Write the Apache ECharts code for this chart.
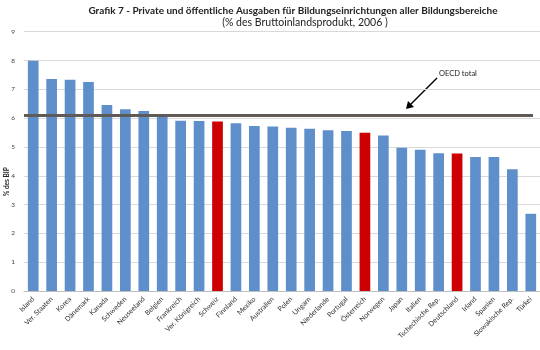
<!DOCTYPE html>
<html>
<head>
<meta charset="utf-8">
<script src="https://cdn.jsdelivr.net/npm/echarts@6/dist/echarts.min.js"></script>
<style>
  html, body { margin: 0; padding: 0; background: #fff; }
  #chart { width: 540px; height: 350px; }
</style>
</head>
<body>
<div id="chart"></div>
<script>
var countries = ['Island', 'Ver. Staaten', 'Korea', 'Dänemark', 'Kanada', 'Schweden', 'Neuseeland', 'Belgien',
  'Frankreich', 'Ver. Königreich', 'Schweiz', 'Finnland', 'Mexiko', 'Australien', 'Polen', 'Ungarn',
  'Niederlande', 'Portugal', 'Österreich', 'Norwegen', 'Japan', 'Italien', 'Tschechische Rep.',
  'Deutschland', 'Irland', 'Spanien', 'Slowakische Rep.', 'Türkei'];
var spending = [7.99, 7.36, 7.33, 7.25, 6.46, 6.31, 6.25, 6.09,
  5.91, 5.90, 5.88, 5.82, 5.73, 5.71, 5.67, 5.63,
  5.58, 5.55, 5.49, 5.40, 4.97, 4.90, 4.78,
  4.77, 4.65, 4.65, 4.23, 2.68];
var highlighted = ['Schweiz', 'Österreich', 'Deutschland'];
var oecdTotal = 6.1;
var yTicks = [0, 1, 2, 3, 4, 5, 6, 7, 8, 9];

var font = 'Lato, "Open Sans", sans-serif';
var chart = echarts.init(document.getElementById('chart'));

var barData = countries.map(function (c, i) {
  return {
    value: spending[i],
    itemStyle: { color: highlighted.indexOf(c) >= 0 ? '#cc0000' : '#5f8fca' }
  };
});

chart.setOption({
  animation: false,
  textStyle: { fontFamily: font },
  title: [{
    text: 'Grafik 7 - Private und öffentliche Ausgaben für Bildungseinrichtungen aller Bildungsbereiche',
    left: 288, top: 1, textAlign: 'center',
    textStyle: { fontSize: 10, fontWeight: 'bold', color: '#222', fontFamily: font }
  }, {
    text: '(% des Bruttoinlandsprodukt, 2006 )',
    left: 300, top: 12, textAlign: 'center',
    textStyle: { fontSize: 10.5, fontWeight: 'normal', color: '#222', fontFamily: font }
  }],
  grid: { left: 24, right: -1, top: 31.7, bottom: 59 },
  xAxis: {
    type: 'category',
    data: countries,
    axisLine: { lineStyle: { color: '#bfbfbf' } },
    axisTick: { show: false },
    axisLabel: { rotate: 45, fontSize: 7, color: '#333', interval: 0, margin: 7 }
  },
  yAxis: {
    type: 'value',
    min: yTicks[0], max: yTicks[yTicks.length - 1], interval: 1,
    axisLine: { show: false },
    axisTick: { show: false },
    axisLabel: { fontSize: 6.5, color: '#444', margin: 9 },
    splitLine: { lineStyle: { color: '#d9d9d9', width: 1 } }
  },
  series: [{
    type: 'bar',
    data: barData,
    barWidth: '58%',
    markLine: {
      silent: true,
      symbol: 'none',
      label: { show: false },
      lineStyle: { color: '#5f5a55', width: 3, type: 'solid' },
      data: [[{ coord: [0, oecdTotal], x: 24 }, { coord: [countries.length - 1, oecdTotal], x: 533 }]]
    }
  }],
  graphic: [{
    type: 'text', rotation: Math.PI / 2, originX: 0, originY: 0,
    style: { text: '% des BIP', font: 'bold 6.5px ' + font, fill: '#222' },
    position: [3, 196]
  }, {
    type: 'text', left: 439, top: 70,
    style: { text: 'OECD total', font: '7.5px ' + font, fill: '#222' }
  }, {
    type: 'line',
    shape: { x1: 437, y1: 78, x2: 410, y2: 105 },
    style: { stroke: '#000', lineWidth: 1.5 }
  }, {
    type: 'polygon',
    shape: { points: [[406, 109], [408, 101], [414, 107]] },
    style: { fill: '#000' }
  }]
});
</script>
</body>
</html>
